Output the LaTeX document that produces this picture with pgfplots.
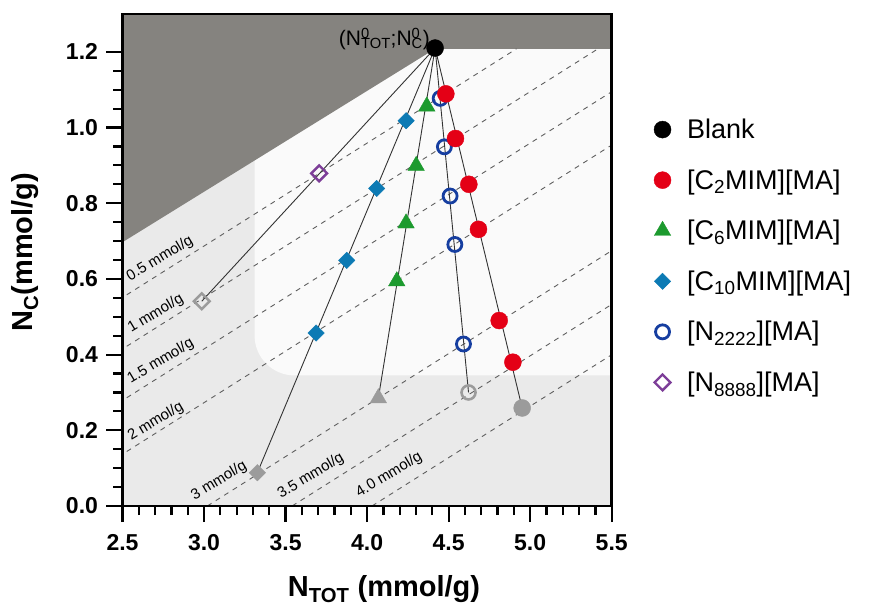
\documentclass[border=0pt]{standalone}
\usepackage{pgfplots}
\pgfplotsset{compat=1.18}
\usepackage{fontspec}
\setmainfont{Liberation Sans}
\definecolor{cred}{RGB}{228,0,22}
\definecolor{cgreen}{RGB}{28,154,46}
\definecolor{cdia}{RGB}{12,122,180}
\definecolor{ccirc}{RGB}{22,62,160}
\definecolor{cpur}{RGB}{125,62,152}
\definecolor{cgrey}{RGB}{155,155,155}
\definecolor{cdark}{RGB}{133,131,127}
\definecolor{clight}{RGB}{234,234,234}
\definecolor{cwhite}{RGB}{250,250,250}
\definecolor{cdash}{RGB}{95,95,95}
\begin{document}
\begin{tikzpicture}[x=1pt,y=1pt]
\path[use as bounding box, fill=white] (0,0) rectangle (869,607);
\begin{axis}[
  at={(122.5pt,101pt)}, anchor=south west,
  scale only axis, width=489.2pt, height=492pt,
  xmin=2.5, xmax=5.5, ymin=0, ymax=1.3,
  xtick={2.5,3.0,...,5.5}, ytick={0,0.2,...,1.2},
  minor x tick num=4, minor y tick num=3,
  xtick pos=bottom, ytick pos=left, tick align=outside,
  major tick length=16pt, minor tick length=9pt,
  every tick/.style={black, line width=2.2pt},
  axis line style={line width=2.6pt},
  axis on top,
  axis background/.style={fill=clight},
  /pgf/number format/assume math mode=true,
  /pgf/number format/.cd, fixed, fixed zerofill, precision=1, /pgfplots/.cd,
  ticklabel style={font=\bfseries\fontsize{23}{23}\selectfont},
  xticklabel style={yshift=-9pt},
  yticklabel style={xshift=-5pt},
  xlabel={N\textsubscript{TOT} (mmol/g)},
  ylabel={N\textsubscript{C}(mmol/g)},
  every axis x label/.style={at={(axis description cs:0.5345,-0.169)}, anchor=center,
    font=\bfseries\fontsize{29}{29}\selectfont},
  every axis y label/.style={at={(axis description cs:-0.199,0.516)}, anchor=center, rotate=90,
    font=\bfseries\fontsize{29}{29}\selectfont},
  legend style={at={(axis description cs:1.080,0.795)}, anchor=north west, draw=none, fill=none,
    font=\fontsize{27}{27}\selectfont, row sep=25.5pt, column sep=14pt},
  legend cell align=left,
]
% background regions
\addplot[draw=none, fill=cwhite, rounded corners=40pt, forget plot]
  coordinates {(3.31,1.45) (3.31,0.345) (5.8,0.345) (5.8,1.45)} -- cycle;
\addplot[draw=none, fill=cdark, forget plot]
  coordinates {(2.5,0.697) (4.417,1.208) (5.6,1.208) (5.6,1.35) (2.5,1.35)} -- cycle;
% iso lines
\pgfplotsset{isol/.style={cdash, line width=0.9pt, dash pattern=on 5pt off 5pt, forget plot}}
\addplot[isol] coordinates {(2.526,0.558) (4.916,1.208)};
\addplot[isol] coordinates {(2.526,0.422) (5.416,1.208)};
\addplot[isol] coordinates {(2.526,0.286) (5.49,1.092)};
\addplot[isol] coordinates {(2.526,0.144) (5.49,0.951)};
\addplot[isol] coordinates {(3.02,0) (5.49,0.672)};
\addplot[isol] coordinates {(3.54,0) (5.49,0.530)};
\addplot[isol] coordinates {(4.03,0) (5.49,0.397)};
% labels of iso lines
\begin{scope}[every node/.style={rotate=31, font=\fontsize{15}{15}\selectfont, inner sep=0pt}]
\node at (axis cs:2.73,0.653) {0.5 mmol/g};
\node at (axis cs:2.704,0.508) {1 mmol/g};
\node at (axis cs:2.734,0.382) {1.5 mmol/g};
\node at (axis cs:2.704,0.223) {2 mmol/g};
\node at (axis cs:3.092,0.066) {3 mmol/g};
\node at (axis cs:3.655,0.079) {3.5 mmol/g};
\node at (axis cs:4.135,0.082) {4.0 mmol/g};
\end{scope}
% connecting lines
\pgfplotsset{conn/.style={black!80, line width=0.9pt, forget plot}}
\addplot[conn] coordinates {(4.417,1.21) (4.951,0.259)};
\addplot[conn] coordinates {(4.417,1.21) (4.622,0.300)};
\addplot[conn] coordinates {(4.417,1.21) (4.069,0.285)};
\addplot[conn] coordinates {(4.417,1.21) (3.327,0.088)};
\addplot[conn] coordinates {(4.417,1.21) (2.986,0.541)};
% end points (grey)
\addplot[only marks, mark=*, mark size=8.5pt, cgrey, forget plot] coordinates {(4.951,0.259)};
\addplot[only marks, mark=o, mark size=7pt, cgrey, line width=2.6pt, forget plot] coordinates {(4.622,0.300)};
\addplot[only marks, mark=triangle*, mark size=9.5pt, cgrey, forget plot] coordinates {(4.069,0.285)};
\addplot[only marks, mark=square*, mark size=5.8pt, mark options={rotate=45}, cgrey, forget plot] coordinates {(3.327,0.088)};
\addplot[only marks, mark=square, mark size=5.6pt, mark options={rotate=45}, cgrey, line width=2.4pt, forget plot] coordinates {(2.986,0.541)};
% blue circles drawn first (behind red)
\addplot[only marks, mark=o, mark size=7pt, ccirc, line width=2.8pt, forget plot]
  coordinates {(4.448,1.077) (4.474,0.949) (4.509,0.819) (4.538,0.691) (4.591,0.428)};
% legend series
\addplot[only marks, mark=*, mark size=8.5pt, black] coordinates {(4.417,1.21)};
\addlegendentry{Blank}
\addplot[only marks, mark=*, mark size=8.5pt, cred]
  coordinates {(4.483,1.089) (4.542,0.971) (4.624,0.850) (4.683,0.731) (4.810,0.490) (4.894,0.380)};
\addlegendentry{[C\textsubscript{2}MIM][MA]}
\addplot[only marks, mark=triangle*, mark size=9.5pt, cgreen]
  coordinates {(4.366,1.056) (4.301,0.899) (4.239,0.747) (4.182,0.594)};
\addlegendentry{[C\textsubscript{6}MIM][MA]}
\addplot[only marks, mark=square*, mark size=5.8pt, mark options={rotate=45}, cdia]
  coordinates {(4.239,1.018) (4.059,0.839) (3.875,0.649) (3.687,0.457)};
\addlegendentry{[C\textsubscript{10}MIM][MA]}
\addlegendimage{only marks, mark=o, mark size=7pt, ccirc, line width=2.8pt}
\addlegendentry{[N\textsubscript{2222}][MA]}
\addplot[only marks, mark=square, mark size=5.6pt, mark options={rotate=45}, cpur, line width=2.4pt]
  coordinates {(3.706,0.879)};
\addlegendentry{[N\textsubscript{8888}][MA]}
% blank label
\node[anchor=east, inner sep=0pt, font=\fontsize{21}{21}\selectfont] at (axis cs:4.386,1.234)
  {(N\rlap{\textsuperscript{0}}\textsubscript{TOT};N\rlap{\textsuperscript{0}}\textsubscript{C})};
\end{axis}
\end{tikzpicture}
\end{document}
